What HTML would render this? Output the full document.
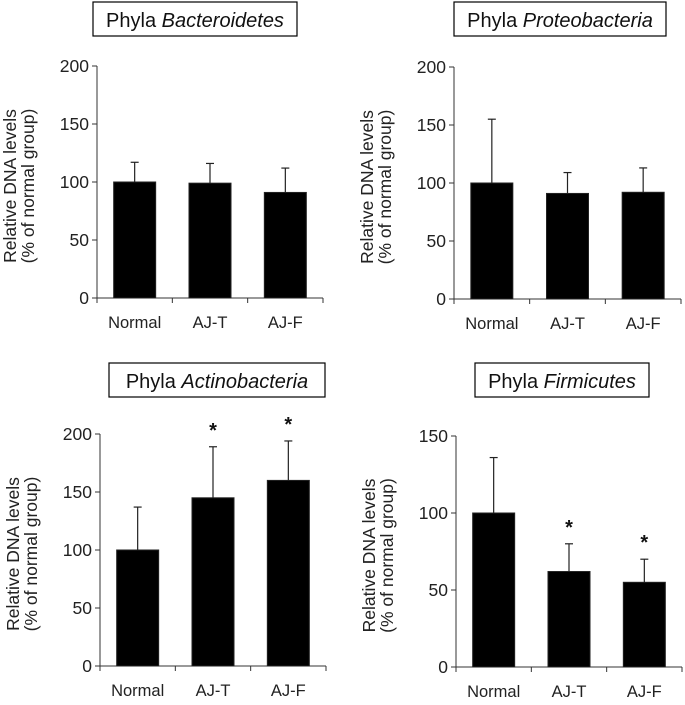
<!DOCTYPE html>
<html><head><meta charset="utf-8"><style>
html,body{margin:0;padding:0;background:#fff;}
svg{display:block;font-family:"Liberation Sans",Arial,sans-serif;}
</style></head><body>
<svg id="fig" width="685" height="705" viewBox="0 0 685 705"></svg>
<script>
const categories = ["Normal","AJ-T","AJ-F"];
const bactValues = [100, 99, 91];
const bactErrors = [17, 17, 21];
const proteoValues = [100, 91, 92];
const proteoErrors = [55, 18, 21];
const actinoValues = [100, 145, 160];
const actinoErrors = [37, 44, 34];
const firmValues = [100, 62, 55];
const firmErrors = [36, 18, 15];
const actinoStars = [false, true, true];
const firmStars = [false, true, true];
const noStars = [false, false, false];
const ticks200 = [0, 50, 100, 150, 200];
const ticks150 = [0, 50, 100, 150];

const NS = "http://www.w3.org/2000/svg";
const svg = document.getElementById('fig');
function mk(tag, attrs, parent, text){
  const e = document.createElementNS(NS, tag);
  for (const k in attrs) e.setAttribute(k, attrs[k]);
  if (text !== undefined) e.textContent = text;
  (parent || svg).appendChild(e);
  return e;
}
function panel(cfg){
  const g = mk('g', {});
  
  
  const tmax = cfg.ticks[cfg.ticks.length-1];
  const yScale = v => cfg.y0 - (v / tmax) * (cfg.y0 - cfg.yTop);
  const cw = (cfg.xEnd - cfg.ax) / categories.length;
  const xCenter = i => cfg.ax + cw * (i + 0.5);
  const tb = mk('rect', {x: cfg.tx, y: cfg.ty, width: cfg.tw, height: 34, fill: '#fff', stroke: '#000', 'stroke-width': 1.2}, g);
  
  
  const tt = mk('text', {x: cfg.tx + cfg.tw/2, y: cfg.ty + 25, 'text-anchor': 'middle', 'font-size': 20, fill: '#111'}, g);
  
  
  mk('tspan', {}, tt, 'Phyla ');
  mk('tspan', {'font-style': 'italic'}, tt, cfg.title);
  const ya = mk('line', {x1: cfg.ax, y1: cfg.yTop, x2: cfg.ax, y2: cfg.y0, stroke: '#333', 'stroke-width': 1}, g);
  
  
  cfg.ticks.forEach(t => {
    const y = yScale(t);
    mk('line', {x1: cfg.ax - 5, y1: y, x2: cfg.ax, y2: y, stroke: '#333', 'stroke-width': 1}, g);
    const lb = mk('text', {x: cfg.ax - 8, y: y + 6, 'text-anchor': 'end', 'font-size': 17.5, fill: '#222'}, g, String(t));
    
    
  });
  const xa = mk('line', {x1: cfg.ax, y1: cfg.y0, x2: cfg.xEnd, y2: cfg.y0, stroke: '#333', 'stroke-width': 1}, g);
  
  
  for (let i = 0; i <= categories.length; i++) {
    const x = cfg.ax + cw * i;
    mk('line', {x1: x, y1: cfg.y0, x2: x, y2: cfg.y0 + 5, stroke: '#333', 'stroke-width': 1}, g);
  }
  categories.forEach((c, i) => {
    const xl = mk('text', {x: xCenter(i), y: cfg.y0 + 30, 'text-anchor': 'middle', 'font-size': 16.5, fill: '#222'}, g, c);
    
    
    const v = cfg.values[i], e = cfg.errors[i];
    const bw = 42;
    const cx = xCenter(i);
    const eb = mk('line', {x1: cx, y1: yScale(v + e), x2: cx, y2: yScale(v), stroke: '#222', 'stroke-width': 1.2}, g);
    
    
    mk('line', {x1: cx - 4, y1: yScale(v + e), x2: cx + 4, y2: yScale(v + e), stroke: '#222', 'stroke-width': 1.2}, g);
    const bar = mk('rect', {x: cx - bw/2, y: yScale(v), width: bw, height: cfg.y0 - yScale(v), fill: '#000', stroke: '#222', 'stroke-width': 1}, g);
    
    
    if (cfg.stars[i]) {
      const st = mk('text', {x: cx, y: yScale(v + e) - 10, 'text-anchor': 'middle', 'font-size': 20, 'font-weight': 'bold', fill: '#111'}, g, '*');
      
      
    }
  });
  const ymid = (cfg.yTop + cfg.y0) / 2 + 4;
  const yt = mk('text', {transform: `translate(${cfg.ax - 81},${ymid}) rotate(-90)`, 'text-anchor': 'middle', 'font-size': 17.5, fill: '#222'}, g, 'Relative DNA levels');
  
  
  const yt2 = mk('text', {transform: `translate(${cfg.ax - 63},${ymid}) rotate(-90)`, 'text-anchor': 'middle', 'font-size': 17.5, fill: '#222'}, g, '(% of normal group)');
  
  
}
panel({name:'bacteroidetes-chart', ax:97, y0:298, yTop:66, xEnd:323, ticks:ticks200, values:bactValues, errors:bactErrors, stars:noStars, title:'Bacteroidetes', tx:93, ty:2, tw:204});
panel({name:'proteobacteria-chart', ax:454, y0:299, yTop:67, xEnd:681, ticks:ticks200, values:proteoValues, errors:proteoErrors, stars:noStars, title:'Proteobacteria', tx:454, ty:2, tw:212});
panel({name:'actinobacteria-chart', ax:100, y0:666, yTop:434, xEnd:326, ticks:ticks200, values:actinoValues, errors:actinoErrors, stars:actinoStars, title:'Actinobacteria', tx:109, ty:363, tw:216});
panel({name:'firmicutes-chart', ax:456, y0:667, yTop:436, xEnd:682, ticks:ticks150, values:firmValues, errors:firmErrors, stars:firmStars, title:'Firmicutes', tx:475, ty:363, tw:174});
</script>
</body></html>
